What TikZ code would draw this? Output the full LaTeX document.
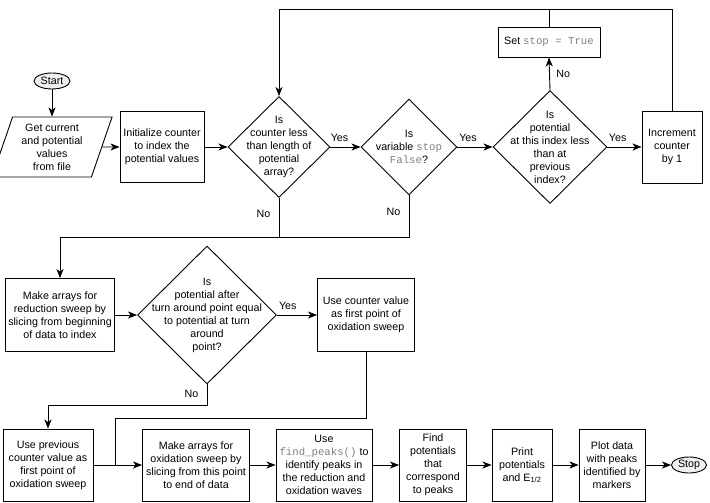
\documentclass[tikz,border=0pt]{standalone}
\usepackage{fontspec}
\setmainfont{Liberation Sans}
\newfontfamily\monofam{Liberation Mono}
\usetikzlibrary{shapes.geometric,arrows.meta}
\newcommand{\cmono}[1]{{\monofam\color{gray}#1}}

\begin{document}
\begin{tikzpicture}[x=1pt,y=-1pt,font=\fontsize{10.7}{13}\selectfont,line width=0.9pt,
  box/.style={draw,rectangle,align=center,inner sep=1pt},
  dec/.style={draw,diamond,inner sep=0pt},
  term/.style={draw,ellipse,fill=gray!12,inner sep=0pt,minimum width=36pt,minimum height=16pt},
  arr/.style={-{Stealth[length=9pt,width=7pt,inset=2.5pt]}},
  yes/.style={above=2pt},
  no/.style={left=5pt}]

\useasboundingbox (0,0) rectangle (710,503);

\coordinate (loop) at (279,9);
\coordinate (back) at (60,237);
\coordinate (back2) at (48,405);
\coordinate (merge) at (115,418);

% first row
\node[term] (start) at (52,81) {Start};
\node[draw,trapezium,trapezium left angle=71,trapezium right angle=109,align=center,
  inner sep=0pt,minimum width=101pt,minimum height=60pt] (get) at (52,147)
  {Get current\\and potential\\values\\from file};
\node[box,minimum width=84pt,minimum height=71pt] (init) at (162,147)
  {Initialize counter\\to index the\\potential values};
\node[dec,minimum width=102pt,minimum height=101pt,
  label={[align=center]center:{Is\\counter less\\than length of\\potential\\array?}}] (d1) at (279,147) {};
\node[dec,minimum width=96pt,minimum height=96pt,
  label={[align=center]center:{Is\\variable \cmono{stop}\\\cmono{False}?}}] (d2) at (409,147) {};
\node[dec,minimum width=114pt,minimum height=113pt,
  label={[align=center]center:{Is\\potential\\at this index less\\than at\\previous\\index?}}] (d3) at (550,147) {};
\node[box,minimum width=60pt,minimum height=72pt] (inc) at (672,147)
  {Increment\\counter\\by 1};
\node[box,minimum width=102pt,minimum height=30pt] (setstop) at (549,42)
  {Set \cmono{stop = True}};

% second row
\node[box,minimum width=109pt,minimum height=73pt] (redux) at (60,315)
  {Make arrays for\\reduction sweep by\\slicing from beginning\\of data to index};
\node[dec,minimum width=139pt,minimum height=138pt,
  label={[align=center]center:{Is\\potential after\\turn around point equal\\to potential at turn\\around\\point?}}] (d4) at (207,315) {};
\node[box,minimum width=97pt,minimum height=73pt] (usecnt) at (366,315)
  {Use counter value\\as first point of\\oxidation sweep};

% third row
\node[box,minimum width=90pt,minimum height=72pt] (useprev) at (48,465)
  {Use previous\\counter value as\\first point of\\oxidation sweep};
\node[box,minimum width=107pt,minimum height=72pt] (oxi) at (196,465)
  {Make arrays for\\oxidation sweep by\\slicing from this point\\to end of data};
\node[box,minimum width=96pt,minimum height=72pt] (peaks) at (324,465)
  {Use\\\cmono{find\_peaks()} to\\identify peaks in\\the reduction and\\oxidation waves};
\node[box,minimum width=67pt,minimum height=72pt] (findp) at (433,465)
  {Find\\potentials\\that\\correspond\\to peaks};
\node[box,minimum width=60pt,minimum height=72pt] (print) at (522,465)
  {Print\\potentials\\and E\textsubscript{1/2}};
\node[box,minimum width=66pt,minimum height=72pt] (plot) at (612,465)
  {Plot data\\with peaks\\identified by\\markers};
\node[term,minimum width=35pt] (stop) at (689,465) {Stop};

\draw[arr] (start) -- (get);
\draw[arr] (get) -- (init);
\draw[arr] (init) -- (d1);
\draw[arr] (d1) -- node[yes,pos=0.3] {Yes} (d2);
\draw[arr] (d2) -- node[yes,pos=0.3] {Yes} (d3);
\draw[arr] (d3) -- node[yes,pos=0.3] {Yes} (inc);
\draw[arr] (d3.north) -- node[right=3pt] {No} (setstop.south);
\draw (setstop.north) -- (setstop.north |- loop);
\draw[arr] (inc.north) -- (inc.north |- loop) -- (loop) -- (d1.north);
\draw (d1.south) -- node[no,pos=0.4] {No} (d1.south |- back);
\draw[arr] (d2.south) -- node[no,pos=0.4] {No} (d2.south |- back) -- (back) -- (redux.north);

\draw[arr] (redux) -- (d4);
\draw[arr] (d4) -- node[yes,pos=0.27] {Yes} (usecnt);
\draw[arr] (d4.south) -- node[no,pos=0.45] {No} (d4.south |- back2) -- (back2) -- (useprev.north);
\draw (usecnt.south) -- (usecnt.south |- merge) -- (merge) -- (merge |- oxi.west);

\draw[arr] (useprev) -- (oxi);
\draw[arr] (oxi) -- (peaks);
\draw[arr] (peaks) -- (findp);
\draw[arr] (findp) -- (print);
\draw[arr] (print) -- (plot);
\draw[arr] (plot) -- (stop);

\end{tikzpicture}
\end{document}
